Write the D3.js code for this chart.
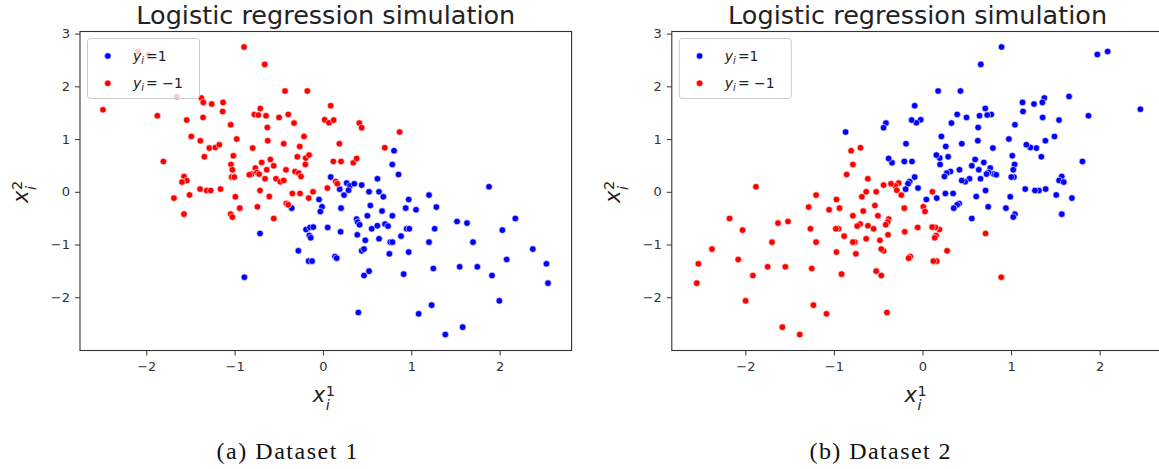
<!DOCTYPE html>
<html>
<head>
<meta charset="utf-8">
<script src="https://cdn.jsdelivr.net/npm/d3@7"></script>
<style>
  body { margin: 0; background: #fff; }
  svg { display: block; }
</style>
</head>
<body>
<div id="chart"></div>
<script>
// tick values
const xTicks = [-2, -1, 0, 1, 2];
const yTicks = [-2, -1, 0, 1, 2, 3];

// Dataset 1, y_i = 1
const set1Pos = [
  [0.088,0.279],[0.19,0.05],[0.269,0.165],[0.307,0.114],[0.355,0.152],[0.439,0.127],[0.29,0.03],[0.239,-0.063],
  [-0.353,-0.31],[-0.044,-0.146],[-0.01,-0.285],[-0.029,-0.374],[0.205,-0.31],[-0.712,-0.791],[-0.191,-0.715],
  [-0.146,-0.677],[-0.109,-0.67],[-0.154,-0.829],[-0.138,-0.873],[0.054,-0.677],[0.2,-0.759],[0.381,-0.518],
  [0.393,-0.575],[0.415,-0.626],[0.389,-0.816],[-0.278,-1.12],[-0.161,-1.315],[-0.123,-1.315],[0.137,-1.227],
  [0.156,-1.259],[0.439,-1.12],[0.465,-1.087],[0.465,-1.588],[-0.889,-1.62],[0.401,-2.29],[0.48,-0.92],
  [0.522,0.0],[0.635,0.0],[0.684,-0.095],[1.88,0.095],[1.201,-0.063],[0.971,-0.146],[0.537,-0.26],[0.669,-0.366],
  [0.937,-0.31],[1.054,-0.342],[1.284,-0.29],[0.503,-0.455],[0.786,-0.455],[0.552,-0.702],[0.616,-0.645],
  [0.703,-0.613],[0.737,-0.651],[0.948,-0.702],[0.978,-0.702],[1.265,-0.702],[0.884,-0.841],[0.635,-0.892],
  [0.763,-0.955],[0.786,-0.955],[1.201,-0.955],[1.518,-0.563],[1.631,-0.594],[2.178,-0.506],[2.031,-0.727],
  [1.699,-0.955],[0.752,-1.176],[0.971,-1.144],[2.08,-1.284],[1.25,-1.455],[1.548,-1.423],[1.748,-1.423],
  [1.914,-1.588],[0.522,-1.505],[0.914,-1.562],[1.997,-2.068],[1.231,-2.15],[1.084,-2.315],[1.582,-2.567],
  [1.386,-2.707],[2.376,-1.087],[2.53,-1.366],[2.548,-1.733],[0.805,0.778],[0.785,0.518],[0.856,0.328],[0.617,0.247]
];

// Dataset 1, y_i = -1
const set1Neg = [
  [-2.49,1.556],[-1.874,1.442],[-1.655,1.808],[-1.974,2.605],[-2.091,2.662],[-1.376,1.778],[-1.354,1.695],
  [-1.259,1.664],[-1.542,1.36],[-1.357,1.41],[-1.49,1.05],[-1.388,0.968],[-1.286,0.829],[-1.218,0.841],
  [-1.173,0.892],[-1.342,0.664],[-1.806,0.575],[-1.572,0.29],[-1.542,0.215],[-1.595,0.184],[-1.391,0.051],
  [-1.315,0.025],[-1.27,0.025],[-1.51,-0.06],[-0.893,2.746],[-0.659,2.416],[-0.429,1.911],[-0.177,1.911],
  [-1.13,1.695],[-1.135,1.524],[0.088,1.632],[-0.709,1.581],[-0.776,1.467],[-0.731,1.455],[-0.644,1.442],
  [-0.497,1.41],[-0.392,1.467],[-0.327,1.303],[-0.629,1.22],[0.02,1.366],[0.069,1.309],[0.122,1.36],
  [0.412,1.303],[0.439,1.214],[-1.044,1.271],[-0.214,1.05],[-0.976,1.0],[-0.625,0.968],[-0.444,0.911],
  [0.186,0.911],[-0.795,0.829],[-0.263,0.86],[-1.014,0.683],[-1.04,0.518],[-1.025,0.417],[-1.033,0.279],
  [-1.003,0.279],[-0.29,0.664],[-0.195,0.639],[-0.157,0.696],[-0.595,0.613],[-0.693,0.556],[-0.557,0.493],
  [-0.199,0.518],[0.118,0.575],[0.205,0.575],[0.344,0.55],[0.382,0.632],[-0.765,0.45],[-0.636,0.417],
  [-0.418,0.417],[-0.806,0.336],[-0.833,0.323],[-0.746,0.366],[-0.723,0.336],[-0.655,0.247],[-0.531,0.247],
  [-0.482,0.19],[-0.444,0.215],[-0.316,0.385],[-0.274,0.355],[-0.248,0.29],[-1.16,0.051],[-0.712,0.025],
  [-0.112,0.0],[-0.346,-0.032],[-0.259,-0.032],[-0.991,-0.095],[-0.607,-0.089],[0.05,0.07],[0.145,0.195],
  [0.163,0.152],[-0.161,-0.12],[-0.942,-0.31],[-0.742,-0.285],[-0.414,-0.222],[-0.392,-0.247],[-1.044,-0.424],
  [-1.025,-0.48],[-0.557,-0.506],[0.868,1.133],[0.70,0.835],[-1.687,-0.12],[-1.573,-0.424]
];

// Dataset 2, y_i = 1
const set2Pos = [
  [2.46,1.565],[1.874,1.442],[1.655,1.808],[1.974,2.605],[2.091,2.662],[1.376,1.778],[1.354,1.695],
  [1.259,1.664],[1.542,1.36],[1.357,1.41],[1.49,1.05],[1.388,0.968],[1.286,0.829],[1.218,0.841],
  [1.173,0.892],[1.342,0.664],[1.806,0.575],[1.572,0.29],[1.542,0.215],[1.595,0.184],[1.391,0.051],
  [1.315,0.025],[1.27,0.025],[1.51,-0.06],[0.893,2.746],[0.659,2.416],[0.429,1.911],[0.177,1.911],
  [1.13,1.695],[1.135,1.524],[-0.088,1.632],[0.709,1.581],[0.776,1.467],[0.731,1.455],[0.644,1.442],
  [0.497,1.41],[0.392,1.467],[0.327,1.303],[0.629,1.22],[-0.02,1.366],[-0.069,1.309],[-0.122,1.36],
  [-0.412,1.303],[-0.439,1.214],[1.044,1.271],[0.214,1.05],[0.976,1.0],[0.625,0.968],[0.444,0.911],
  [-0.186,0.911],[0.795,0.829],[0.263,0.86],[1.014,0.683],[1.04,0.518],[1.025,0.417],[1.033,0.279],
  [1.003,0.279],[0.29,0.664],[0.195,0.639],[0.157,0.696],[0.595,0.613],[0.693,0.556],[0.557,0.493],
  [0.199,0.518],[-0.118,0.575],[-0.205,0.575],[-0.344,0.55],[-0.382,0.632],[0.765,0.45],[0.636,0.417],
  [0.418,0.417],[0.806,0.336],[0.833,0.323],[0.746,0.366],[0.723,0.336],[0.655,0.247],[0.531,0.247],
  [0.482,0.19],[0.444,0.215],[0.316,0.385],[0.274,0.355],[0.248,0.29],[1.16,0.051],[0.712,0.025],
  [0.346,-0.032],[0.259,-0.032],[0.991,-0.095],[0.607,-0.089],[-0.05,0.07],[-0.145,0.195],[-0.163,0.152],
  [0.161,-0.12],[0.942,-0.31],[0.742,-0.285],[0.414,-0.222],[0.392,-0.247],[1.044,-0.424],[1.025,-0.48],
  [0.557,-0.506],[-0.868,1.133],[1.687,-0.12],[1.573,-0.424],
  [-0.088,0.279],[-0.19,0.05],[0.044,-0.146],[0.353,-0.31]
];

// Dataset 2, y_i = -1
const set2Neg = [
  [-0.70,0.835],[0.112,0.0],
  [-0.269,0.165],[-0.307,0.114],[-0.355,0.152],[-0.439,0.127],[-0.29,0.03],[-0.239,-0.063],[0.01,-0.285],
  [0.029,-0.374],[-0.205,-0.31],[0.712,-0.791],[0.191,-0.715],[0.146,-0.677],[0.109,-0.67],[0.154,-0.829],
  [0.138,-0.873],[-0.054,-0.677],[-0.2,-0.759],[-0.381,-0.518],[-0.393,-0.575],[-0.415,-0.626],[-0.389,-0.816],
  [0.278,-1.12],[0.161,-1.315],[0.123,-1.315],[-0.137,-1.227],[-0.156,-1.259],[-0.439,-1.12],[-0.465,-1.087],
  [-0.465,-1.588],[0.889,-1.62],[-0.401,-2.29],[-0.48,-0.92],[-0.522,0.0],[-0.635,0.0],[-0.684,-0.095],
  [-1.88,0.095],[-1.201,-0.063],[-0.971,-0.146],[-0.537,-0.26],[-0.669,-0.366],[-0.937,-0.31],[-1.054,-0.342],
  [-1.284,-0.29],[-0.503,-0.455],[-0.786,-0.455],[-0.552,-0.702],[-0.616,-0.645],[-0.703,-0.613],[-0.737,-0.651],
  [-0.948,-0.702],[-0.978,-0.702],[-1.265,-0.702],[-0.884,-0.841],[-0.635,-0.892],[-0.763,-0.955],[-0.786,-0.955],
  [-1.201,-0.955],[-1.518,-0.563],[-1.631,-0.594],[-2.178,-0.506],[-2.031,-0.727],[-1.699,-0.955],[-0.752,-1.176],
  [-0.971,-1.144],[-2.08,-1.284],[-1.25,-1.455],[-1.548,-1.423],[-1.748,-1.423],[-1.914,-1.588],[-0.522,-1.505],
  [-0.914,-1.562],[-1.997,-2.068],[-1.231,-2.15],[-1.084,-2.315],[-1.582,-2.567],[-1.386,-2.707],[-2.376,-1.087],
  [-2.53,-1.366],[-2.548,-1.733],[-0.805,0.778],[-0.785,0.518],[-0.856,0.328],[-0.617,0.247]
];

const legendLabels = ["=1", "= \u22121"];
const titleText = "Logistic regression simulation";

const W = 1159, H = 469;
const axTop = 31.5, axBottom = 350.5, axWidth = 491.6;
const font = "'DejaVu Sans', sans-serif";
const ink = "#333";

const svg = d3.select("#chart").append("svg")
  .attr("width", W)
  .attr("height", H);

svg.append("rect").attr("width", W).attr("height", H).attr("fill", "#fff");

// math-like label: x with stacked sub/superscript, as one text element
function mathLabel(sel, sup) {
  const t = sel.append("text").style("font-family", font).attr("fill", "#222");
  t.append("tspan").attr("font-style", "italic").attr("font-size", "21px").text("x");
  t.append("tspan").attr("x", 13).attr("dy", -6).attr("font-size", "14.5px").text(sup);
  t.append("tspan").attr("x", 13).attr("dy", 14).attr("font-style", "italic").attr("font-size", "14.5px").text("i");
}

function drawPanel(left, xDomain, pos, neg, caption) {
  const x = d3.scaleLinear().domain(xDomain).range([left, left + axWidth]);
  const y = d3.scaleLinear().domain([-3.01, 3.04]).range([axBottom, axTop]);
  const cx = left + axWidth / 2;
  const g = svg.append("g");

  // x axis
  const xa = g.append("g")
    .attr("transform", `translate(0,${axBottom})`)
    .call(d3.axisBottom(x).tickValues(xTicks).tickSize(5).tickPadding(6).tickFormat(d3.format("d")));
  // y axis
  const ya = g.append("g")
    .attr("transform", `translate(${left},0)`)
    .call(d3.axisLeft(y).tickValues(yTicks).tickSize(5).tickPadding(5).tickFormat(d3.format("d")));
  [xa, ya].forEach(a => {
    a.select(".domain").remove();
    a.selectAll("line").attr("stroke", ink).attr("stroke-width", 1);
    a.selectAll("text").attr("fill", ink).style("font-family", font).style("font-size", "13px");
  });

  // points: blue first, red on top
  const dots = g.append("g");
  dots.selectAll("circle.pos").data(pos).join("circle")
    .attr("class", "pos")
    .attr("cx", d => x(d[0])).attr("cy", d => y(d[1]))
    .attr("r", 3.3).attr("fill", "#0000ff")
    .attr("stroke", "#fff").attr("stroke-width", 0.6);
  dots.selectAll("circle.neg").data(neg).join("circle")
    .attr("class", "neg")
    .attr("cx", d => x(d[0])).attr("cy", d => y(d[1]))
    .attr("r", 3.3).attr("fill", "#ff0000")
    .attr("stroke", "#fff").attr("stroke-width", 0.6);

  // frame
  g.append("rect")
    .attr("x", left).attr("y", axTop)
    .attr("width", axWidth).attr("height", axBottom - axTop)
    .attr("fill", "none").attr("stroke", ink).attr("stroke-width", 1.1);

  // legend
  const lg = g.append("g").attr("transform", `translate(${left + 7.5},38.5)`);
  lg.append("rect")
    .attr("width", 112).attr("height", 60).attr("rx", 3)
    .attr("fill", "#fff").attr("fill-opacity", 0.8)
    .attr("stroke", "#ccc").attr("stroke-width", 1);
  const colors = ["#0000ff", "#ff0000"];
  legendLabels.forEach((lab, i) => {
    const yy = 17.5 + i * 27.3;
    lg.append("circle").attr("cx", 20.3).attr("cy", yy).attr("r", 3.3)
      .attr("fill", colors[i]).attr("stroke", "#fff").attr("stroke-width", 0.6);
    const t = lg.append("text")
      .attr("x", 45.5).attr("y", yy + 4.5)
      .attr("fill", "#222").style("font-family", font).style("font-size", "14px");
    t.append("tspan").attr("font-style", "italic").text("y");
    t.append("tspan").attr("font-style", "italic").attr("font-size", "10px").attr("dy", 3).text("i");
    t.append("tspan").attr("dy", -3).attr("dx", 2).text(lab);
  });

  // title
  g.append("text")
    .attr("x", cx).attr("y", 24)
    .attr("text-anchor", "middle")
    .attr("fill", "#222")
    .style("font-family", font).style("font-size", "25.5px")
    .text(titleText);

  // x label  x_i^1
  mathLabel(g.append("g").attr("transform", `translate(${cx - 13},401.5)`), "1");
  // y label  x_i^2 (rotated)
  mathLabel(g.append("g").attr("transform", `translate(${left - 52},203) rotate(-90)`), "2");

  // caption below
  svg.append("text")
    .attr("x", caption.x).attr("y", 459)
    .attr("text-anchor", "middle")
    .attr("fill", "#111")
    .attr("textLength", 141).attr("lengthAdjust", "spacing")
    .style("font-family", "'Liberation Serif', 'DejaVu Serif', serif").style("font-size", "24px")
    .text(caption.text);
}

drawPanel(80, [-2.75, 2.815], set1Pos, set1Neg, { x: 287, text: "(a) Dataset 1" });
drawPanel(671.8, [-2.83, 2.72], set2Pos, set2Neg, { x: 880, text: "(b) Dataset 2" });
</script>
</body>
</html>
